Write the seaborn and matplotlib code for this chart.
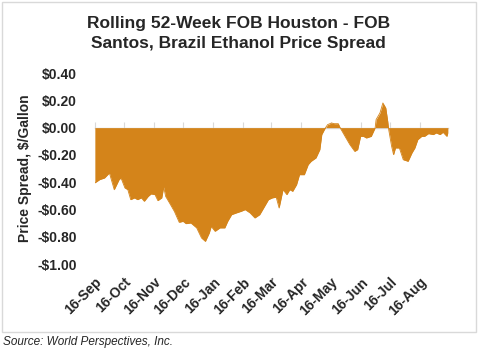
import numpy as np
import pandas as pd
import matplotlib
matplotlib.use("Agg")
import matplotlib.pyplot as plt
import matplotlib.dates as mdates
from matplotlib.ticker import FuncFormatter
from matplotlib.patches import Rectangle
import seaborn as sns

# Days since 16-Sep and the spread ($/gallon)
day_offset = [0, 5, 10, 15, 20, 25, 27, 31, 34, 37, 41, 44, 48, 51, 55, 58, 62, 65, 69, 71,
              73, 77, 82, 87, 91, 94, 99, 105, 110, 114, 118, 120, 124, 129, 134, 137, 141, 146, 151, 155,
              160, 165, 170, 175, 179, 183, 187, 190, 194, 198, 201, 204, 208, 211, 216, 220, 223, 228, 232, 234,
              237, 240, 244, 247, 251, 253, 258, 263, 268, 271, 274, 277, 280, 285, 289, 290, 294, 297, 300, 302,
              303, 306, 308, 310, 314, 318, 323, 327, 330, 333, 337, 340, 344, 349, 352, 356, 359, 363, 364]
spread = [-0.405, -0.381, -0.369, -0.332, -0.455, -0.381, -0.369, -0.442, -0.455, -0.528,
          -0.515, -0.528, -0.515, -0.540, -0.504, -0.486, -0.491, -0.535, -0.515, -0.435,
          -0.504, -0.552, -0.614, -0.694, -0.687, -0.704, -0.699, -0.735, -0.809, -0.834,
          -0.772, -0.724, -0.760, -0.735, -0.735, -0.687, -0.638, -0.625, -0.613, -0.601,
          -0.625, -0.662, -0.638, -0.577, -0.528, -0.515, -0.510, -0.589, -0.455, -0.491,
          -0.455, -0.467, -0.418, -0.345, -0.345, -0.271, -0.247, -0.222, -0.161, -0.051,
          -0.010, 0.022, 0.034, 0.029, 0.029, -0.002, -0.064, -0.125, -0.174, -0.161,
          -0.064, -0.064, -0.076, -0.064, -0.002, 0.059, 0.108, 0.181, 0.144, 0.046,
          -0.015, -0.137, -0.198, -0.149, -0.149, -0.235, -0.247, -0.185, -0.149, -0.088,
          -0.064, -0.064, -0.044, -0.051, -0.039, -0.051, -0.034, -0.064, -0.037]
tick_dates = ["2019-09-16", "2019-10-16", "2019-11-16", "2019-12-16", "2020-01-16", "2020-02-16",
              "2020-03-16", "2020-04-16", "2020-05-16", "2020-06-16", "2020-07-16", "2020-08-16"]
y_ticks = [0.40, 0.20, 0.00, -0.20, -0.40, -0.60, -0.80, -1.00]

df = pd.DataFrame({
    "date": pd.Timestamp("2019-09-16") + pd.to_timedelta(day_offset, unit="D"),
    "spread": spread,
})

sns.set_style("white")
plt.rcParams["font.family"] = ["Liberation Sans", "DejaVu Sans"]

fill_color = "#D4841A"
grey = "#D9D9D9"

fig = plt.figure(figsize=(4.79, 3.53), dpi=100)
ax = fig.add_axes([0.198, 0.252, 0.737, 0.541])

ax.fill_between(df["date"], 0, df["spread"], color=fill_color, linewidth=0)
sns.lineplot(data=df, x="date", y="spread", ax=ax, color=fill_color, linewidth=0.6)

ax.set_xlim(pd.Timestamp("2019-09-16"), pd.Timestamp("2019-09-16") + pd.Timedelta(days=364))
ax.set_ylim(-1.0, 0.4)

ax.set_yticks(y_ticks)
ax.yaxis.set_major_formatter(FuncFormatter(lambda v, p: ("-$%.2f" % abs(v)) if v < -1e-9 else "$%.2f" % abs(v)))
ax.tick_params(axis="y", length=0, pad=13, labelsize=10)
for lab in ax.get_yticklabels():
    lab.set_fontweight("bold")

ticks = pd.to_datetime(tick_dates)
ax.set_xticks(ticks)
ax.xaxis.set_major_formatter(mdates.DateFormatter("%d-%b"))
ax.tick_params(axis="x", length=0, pad=8, labelsize=10)
plt.setp(ax.get_xticklabels(), rotation=45, ha="right", rotation_mode="anchor", fontweight="bold")

ax.set_xlabel("")
ax.set_ylabel("Price Spread, $/Gallon", fontsize=10, fontweight="bold", labelpad=4)
for s in ax.spines.values():
    s.set_visible(False)

# zero line with month tick marks
zero_axis = ax.secondary_xaxis(1.0 / 1.4)
zero_axis.set_xticks(ticks)
zero_axis.tick_params(axis="x", direction="out", length=4, color=grey, labelbottom=False, labeltop=False)
zero_axis.set_xticklabels([])
for s in zero_axis.spines.values():
    s.set_color(grey)
    s.set_linewidth(1.0)

fig.text(0.498, 0.906, "Rolling 52-Week FOB Houston - FOB\nSantos, Brazil Ethanol Price Spread",
         ha="center", va="center", fontsize=12.5, fontweight="bold", linespacing=1.4)
fig.text(0.006, 0.031, "Source: World Perspectives, Inc.", ha="left", va="center",
         fontsize=8.5, style="italic")

fig.patches.append(Rectangle((0.004, 0.059), 0.99, 0.935, transform=fig.transFigure,
                             fill=False, edgecolor=grey, linewidth=1.0))

fig.savefig("out.png", dpi=100)
